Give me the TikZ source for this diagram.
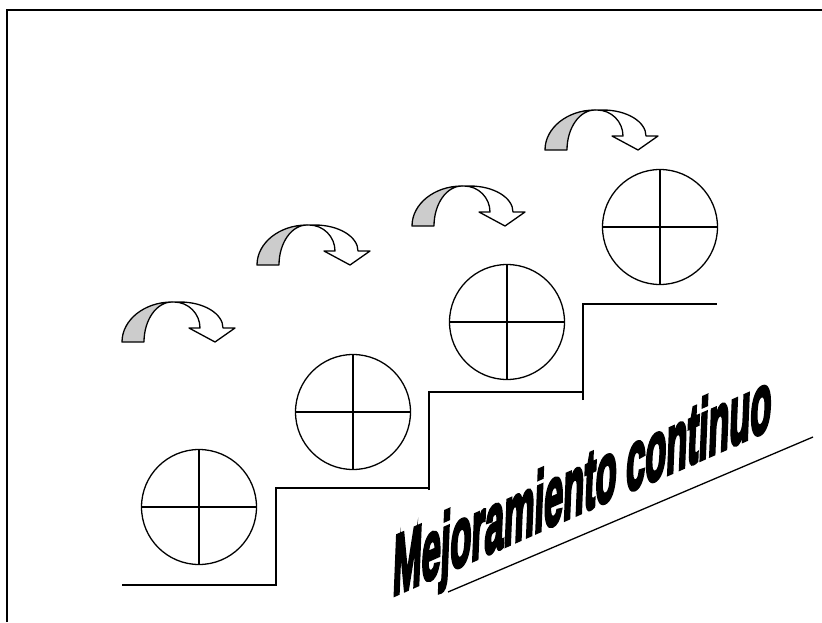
\documentclass[tikz,border=0pt]{standalone}
\usepackage{fontspec}
\newfontfamily\artfont{Liberation Sans}[FakeBold=5,FakeSlant=0.1]
\usetikzlibrary{calc}

\begin{document}
\begin{tikzpicture}[x=1pt,y=1pt,
  stair/.style={line width=1.4pt},
  disc/.style={draw,circle,line width=1.3pt,minimum size=115pt,inner sep=0pt,outer sep=0pt},
  turn/.style={line width=1.3pt,line join=round}]
\useasboundingbox (0,0) rectangle (822,-622);
\draw[line width=2pt] (7,-622)--(7,-9.5)--(822,-9.5);
% escalones
\draw[stair] (122,-585) -| (276,-488) -- (429,-488);
\draw[stair] (429,-490) -- (429,-392) -- (583,-392);
\draw[stair] (583,-400) -- (583,-304) -- (717,-304);
% circulos
\node[disc] (c1) at (199,-507) {};
\node[disc] (c2) at (353,-412) {};
\node[disc] (c3) at (507,-322) {};
\node[disc] (c4) at (660,-227) {};
\foreach \c in {c1,c2,c3,c4} {
  \draw[line width=1.3pt] (\c.north)--(\c.south);
  \draw[line width=1.3pt] (\c.west)--(\c.east);
}
% flechas curvas
\foreach \ax/\ay in {122/342,257/265,412/226,545/150} {
  \begin{scope}[shift={(\ax,-\ay)}]
  \draw[turn,fill=white] (50,40)--(58,40) arc[start angle=90,end angle=0,x radius=43,y radius=26]
    --(113,14)--(93,0)--(67,14)--(78,14) arc[start angle=0,end angle=90,x radius=26,y radius=26]--cycle;
  \draw[turn,fill=gray!40] (0,0) arc[start angle=180,end angle=90,x radius=50,y radius=40]
    arc[start angle=90,end angle=180,x radius=28,y radius=40]--cycle;
  \end{scope}
}
% texto
\node[anchor=base west,inner sep=0pt,cm={0.86,0.38,0,2.1,(0,0)},
  font=\artfont\bfseries\fontsize{40}{40}\selectfont] (motto) at (392,-596) {Mejoramiento continuo};
\draw[line width=1.3pt] (448,-592)--(813,-437);
\end{tikzpicture}
\end{document}
